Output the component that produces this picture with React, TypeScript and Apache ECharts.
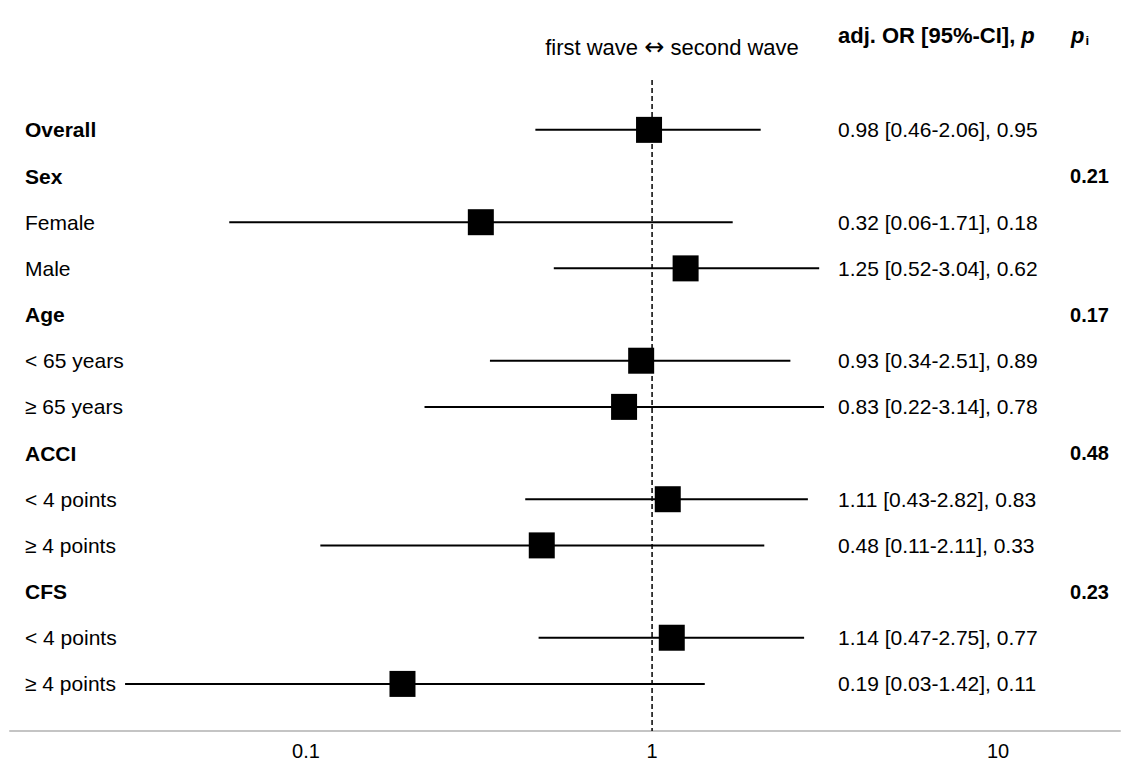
import React, { useEffect, useRef } from "react";
import * as echarts from "echarts";

const labels = ["Overall", "Sex", "Female", "Male", "Age", "< 65 years", "≥ 65 years", "ACCI", "< 4 points", "≥ 4 points", "CFS", "< 4 points", "≥ 4 points"];
const isHeader = [true, true, false, false, true, false, false, true, false, false, true, false, false];
const orValues = [0.98, null, 0.32, 1.25, null, 0.93, 0.83, null, 1.11, 0.48, null, 1.14, 0.19];
const ciLow = [0.46, null, 0.06, 0.52, null, 0.34, 0.22, null, 0.43, 0.11, null, 0.47, 0.03];
const ciHigh = [2.06, null, 1.71, 3.04, null, 2.51, 3.14, null, 2.82, 2.11, null, 2.75, 1.42];
const pValues = [0.95, null, 0.18, 0.62, null, 0.89, 0.78, null, 0.83, 0.33, null, 0.77, 0.11];
const pInteraction = [null, 0.21, null, null, 0.17, null, null, 0.48, null, null, 0.23, null, null];
const xTicks = [0.1, 1, 10];

const FONT = "Liberation Sans, Arial, sans-serif";
const FS = 21;

export default function App() {
  const ref = useRef<HTMLDivElement>(null);
  useEffect(() => {
    document.body.style.margin = "0";
    const chart = echarts.init(ref.current!, null, { renderer: "svg" });
    const data = labels.map((_, i) => [orValues[i] ?? 1, i]);
    chart.setOption({
      animation: false,
      backgroundColor: "#fff",
      textStyle: { fontFamily: FONT },
      grid: { left: 10, right: 5, top: 80, bottom: 32, containLabel: false, outerBoundsMode: "none" },
      xAxis: {
        type: "log",
        logBase: 10,
        min: 0.01395,
        max: 22.5,
        axisLine: { show: true, onZero: false, lineStyle: { color: "#c4c4c4", width: 2 } },
        axisTick: { show: false },
        splitLine: { show: false },
        axisLabel: {
          customValues: xTicks,
          color: "#000",
          fontSize: 20,
          fontFamily: FONT,
          margin: 10,
          formatter: (v: number) => String(v),
        },
      },
      yAxis: {
        type: "value",
        inverse: true,
        min: -1.08,
        max: 13.02,
        show: false,
      },
      graphic: [
        {
          type: "text",
          x: 672,
          y: 47,
          style: {
            text: "{t|first wave }{a|↔}{t| second wave}",
            align: "center",
            verticalAlign: "middle",
            rich: {
              t: { fontSize: 22, fontFamily: FONT, fill: "#000" },
              a: { fontSize: 24, fontFamily: "DejaVu Sans", fill: "#000" },
            },
          },
        },
        {
          type: "text",
          x: 838,
          y: 35,
          style: {
            text: "{b|adj. OR [95%-CI], }{i|p}",
            verticalAlign: "middle",
            rich: {
              b: { fontSize: 22, fontWeight: "bold", fontFamily: FONT, fill: "#000" },
              i: { fontSize: 22, fontWeight: "bold", fontStyle: "italic", fontFamily: FONT, fill: "#000" },
            },
          },
        },
        {
          type: "text",
          x: 1071,
          y: 35,
          style: {
            text: "{i|p}{s|i}",
            verticalAlign: "middle",
            rich: {
              i: { fontSize: 22, fontWeight: "bold", fontStyle: "italic", fontFamily: FONT, fill: "#000" },
              s: { fontSize: 13, fontWeight: "bold", fontFamily: FONT, fill: "#000", padding: [10, 0, 0, 1] },
            },
          },
        },
      ],
      series: [
        {
          type: "line",
          data: [[1, -1.08], [1, 13.02]],
          symbol: "none",
          silent: true,
          lineStyle: { color: "#000", width: 1.5, type: [5, 3] },
          z: 1,
        },
        {
          type: "custom",
          data,
          encode: { x: 0, y: 1 },
          clip: false,
          z: 3,
          renderItem: (params: any, api: any) => {
            const i = params.dataIndex;
            const y = api.coord([1, i])[1];
            const children: any[] = [];
            children.push({
              type: "text",
              x: 25,
              y,
              style: {
                text: labels[i],
                font: `${isHeader[i] ? "bold " : ""}${FS}px ${FONT}`,
                fill: "#000",
                verticalAlign: "middle",
                align: "left",
              },
            });
            if (orValues[i] != null) {
              const a = api.coord([ciLow[i], i]);
              const b = api.coord([ciHigh[i], i]);
              const c = api.coord([orValues[i], i]);
              children.push({
                type: "line",
                shape: { x1: a[0], y1: y, x2: b[0], y2: y },
                style: { stroke: "#000", lineWidth: 2 },
              });
              children.push({
                type: "rect",
                shape: { x: c[0] - 13, y: y - 13, width: 26, height: 26 },
                style: { fill: "#000" },
              });
              children.push({
                type: "text",
                x: 838,
                y,
                style: {
                  text: `${orValues[i]!.toFixed(2)} [${ciLow[i]!.toFixed(2)}-${ciHigh[i]!.toFixed(2)}], ${pValues[i]!.toFixed(2)}`,
                  font: `${FS}px ${FONT}`,
                  fill: "#000",
                  verticalAlign: "middle",
                  align: "left",
                },
              });
            }
            if (pInteraction[i] != null) {
              children.push({
                type: "text",
                x: 1109,
                y,
                style: {
                  text: pInteraction[i]!.toFixed(2),
                  font: `bold 20px ${FONT}`,
                  fill: "#000",
                  verticalAlign: "middle",
                  align: "right",
                },
              });
            }
            return { type: "group", children };
          },
        },
      ],
    });
    return () => chart.dispose();
  }, []);
  return <div ref={ref} style={{ width: 1125, height: 763 }} />;
}
